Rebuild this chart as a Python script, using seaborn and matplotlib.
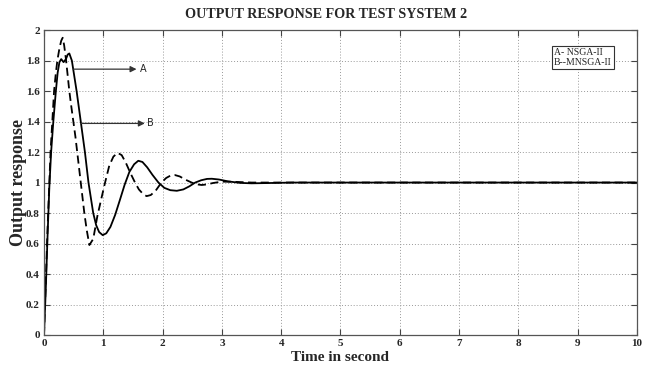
import numpy as np
import pandas as pd
import matplotlib
matplotlib.use('Agg')
import matplotlib.pyplot as plt
import seaborn as sns

# curve A - NSGA-II (solid)
t_a = [0, 0.03, 0.06, 0.09, 0.12, 0.157, 0.20, 0.23, 0.26, 0.29, 0.33, 0.37, 0.40, 0.427,
       0.47, 0.51, 0.55, 0.585, 0.62, 0.655, 0.69, 0.72, 0.75, 0.79, 0.83, 0.88, 0.93, 0.99,
       1.05, 1.12, 1.20, 1.28, 1.36, 1.44, 1.52, 1.59, 1.66, 1.74, 1.83, 1.93, 2.03, 2.13,
       2.24, 2.35, 2.45, 2.55, 2.65, 2.75, 2.83, 2.95, 3.1, 3.3, 3.5, 3.8, 4.2, 5, 10]
y_a = [0, 0.3, 0.65, 0.97, 1.2, 1.4, 1.6, 1.72, 1.79, 1.81, 1.79, 1.81, 1.84, 1.847,
       1.80, 1.70, 1.60, 1.50, 1.40, 1.30, 1.20, 1.10, 1.0, 0.90, 0.80, 0.72, 0.675, 0.655,
       0.667, 0.709, 0.788, 0.886, 0.986, 1.07, 1.12, 1.143, 1.135, 1.10, 1.05, 1.0, 0.965, 0.95,
       0.946, 0.955, 0.975, 1.0, 1.015, 1.024, 1.025, 1.02, 1.008, 0.998, 0.995, 0.997, 1.0, 1.0, 1.0]

# curve B - MNSGA-II (dashed)
t_b = [0, 0.03, 0.06, 0.09, 0.11, 0.14, 0.17, 0.20, 0.225, 0.26, 0.29, 0.315,
       0.34, 0.37, 0.40, 0.427, 0.46, 0.495, 0.53, 0.56, 0.59, 0.62, 0.65, 0.68, 0.72, 0.765,
       0.83, 0.90, 0.97, 1.03, 1.10, 1.17, 1.24, 1.31, 1.38, 1.46, 1.535, 1.60, 1.67, 1.73,
       1.80, 1.88, 1.98, 2.06, 2.13, 2.21, 2.29, 2.38, 2.49, 2.58, 2.66, 2.75, 2.85, 3.0,
       3.2, 3.5, 4.0, 5, 10]
y_b = [0, 0.35, 0.7, 1.0, 1.2, 1.4, 1.6, 1.72, 1.80, 1.88, 1.93, 1.95,
       1.90, 1.81, 1.70, 1.60, 1.50, 1.40, 1.30, 1.20, 1.10, 1.0, 0.90, 0.80, 0.69, 0.59,
       0.63, 0.78, 0.90, 1.0, 1.11, 1.17, 1.195, 1.18, 1.13, 1.06, 1.0, 0.955, 0.925, 0.911,
       0.918, 0.945, 1.0, 1.03, 1.045, 1.049, 1.04, 1.02, 1.0, 0.988, 0.984, 0.988, 0.997, 1.006,
       1.005, 1.0, 1.0, 1.0, 1.0]

x_ticks = list(range(0, 11))
y_ticks = [0, 0.2, 0.4, 0.6, 0.8, 1, 1.2, 1.4, 1.6, 1.8, 2]
y_ticklabels = ['0', '0.2', '0.4', '0.6', '0.8', '1', '1.2', '1.4', '1.6', '1.8', '2']

df_a = pd.DataFrame({'t': t_a, 'y': y_a})
df_b = pd.DataFrame({'t': t_b, 'y': y_b})

sns.set_style('white')
plt.rcParams['font.family'] = ['Liberation Serif', 'DejaVu Serif']

fig = plt.figure(figsize=(6.49, 3.72), dpi=100)
ax = fig.add_axes([0.0678, 0.0995, 0.9137, 0.8195])

sns.lineplot(data=df_a, x='t', y='y', ax=ax, color='black', linewidth=1.3, sort=False)
sns.lineplot(data=df_b, x='t', y='y', ax=ax, color='black', linewidth=1.3, sort=False,
             linestyle=(0, (4.5, 2.5)))

ax.set_xlim(0, 10)
ax.set_ylim(0, 2)
ax.set_xticks(x_ticks)
ax.set_xticklabels([str(v) for v in x_ticks], fontweight='bold', fontsize=8)
ax.set_yticks(y_ticks)
ax.set_yticklabels(y_ticklabels, fontweight='bold', fontsize=8)
ax.tick_params(direction='in', length=4, width=0.8, color='#444444', pad=3)
ax.tick_params(top=True, right=True, bottom=True, left=True)
ax.grid(True, linestyle=(0, (1, 2)), color='#999999', linewidth=0.7)
for s in ax.spines.values():
    s.set_color('#555555')
    s.set_linewidth(0.9)

ax.set_xlabel('Time in second', fontweight='bold', fontsize=11, labelpad=2)
ax.set_ylabel('Output response', fontweight='bold', fontsize=13)
ax.yaxis.set_label_coords(-0.028, 0.5)
fig.text(0.502, 0.962, 'OUTPUT RESPONSE FOR TEST SYSTEM 2', fontweight='bold', fontsize=10.2,
         ha='center', va='center')

arrow = dict(arrowstyle='-|>', color='#333333', lw=0.9, mutation_scale=9, shrinkA=0, shrinkB=0)
ax.annotate('', xy=(1.56, 1.744), xytext=(0.495, 1.744), arrowprops=arrow)
ax.text(1.62, 1.744, 'A', fontsize=7, family='DejaVu Sans', va='center', ha='left')
ax.annotate('', xy=(1.70, 1.388), xytext=(0.62, 1.388), arrowprops=arrow)
ax.text(1.73, 1.388, 'B', fontsize=7, family='DejaVu Sans', va='center', ha='left')

ax.text(8.6, 1.82, 'A- NSGA-II\nB--MNSGA-II', fontsize=7, ha='left', va='center',
        linespacing=1.1,
        bbox=dict(boxstyle='square,pad=0.25', facecolor='white', edgecolor='#333333', linewidth=0.8))

fig.savefig('out.png', dpi=100)
